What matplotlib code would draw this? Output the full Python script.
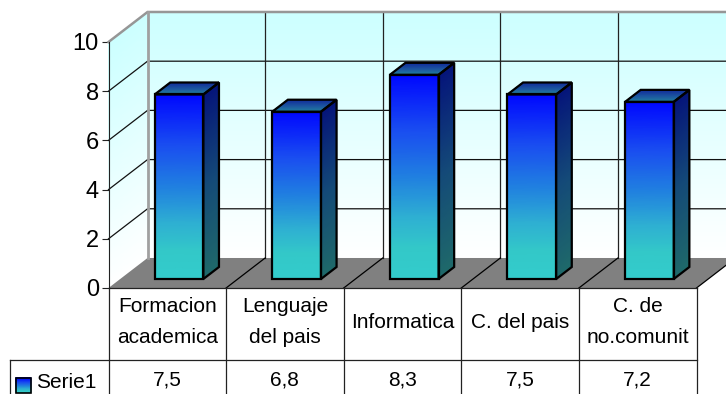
import matplotlib
matplotlib.use('Agg')
from matplotlib import pyplot as plt
from matplotlib.colors import LinearSegmentedColormap
from matplotlib.patches import Polygon
import numpy as np

plt.rcParams['font.family'] = ['Liberation Sans', 'DejaVu Sans']

categories = ['Formacion\nacademica', 'Lenguaje\ndel pais', 'Informatica', 'C. del pais', 'C. de\nno.comunit']
value_labels = ['7,5', '6,8', '8,3', '7,5', '7,2']
values = [7.5, 6.8, 8.3, 7.5, 7.2]
series_name = 'Serie1'
y_ticks = [0, 2, 4, 6, 8, 10]

# oblique projection: one unit of depth moves this far in data units
DEPTH_X = 0.332
DEPTH_Y = 1.22

BAR_WIDTH = 0.414
BAR_FRONT = 0.3
BAR_DEPTH = 0.4

ROW_1 = -2.93
ROW_2 = -4.6
LEGEND_LEFT = -0.838

FRONT_COLOURS = [(0.0, '#33cccc'), (0.15, '#33c8c8'), (0.3, '#2eb0d2'), (0.5, '#2080e0'),
                 (0.72, '#1a4ff0'), (1.0, '#0008ff')]
SIDE_COLOURS = ['#1f6a6a', '#144a78', '#05157a']
LID_COLOURS = ['#20889f', '#1d5aa0', '#12309a']


def project(x, y, d=0.0):
    return x + d * DEPTH_X, y + d * DEPTH_Y


def shade(ax, bottom, top, colours, zorder):
    # bottom and top are two point pairs, coloured from the bottom pair to the top pair
    cmap = LinearSegmentedColormap.from_list('shade', colours)
    t = np.linspace(0, 1, 40)[:, None]
    bottom = np.array(bottom)
    top = np.array(top)
    xs = bottom[:, 0] * (1 - t) + top[:, 0] * t
    ys = bottom[:, 1] * (1 - t) + top[:, 1] * t
    c = np.repeat(t, 2, axis=1)
    ax.pcolormesh(xs, ys, c, shading='gouraud', cmap=cmap, vmin=0, vmax=1,
                  zorder=zorder, clip_on=False)


def outline(ax, points, zorder, lw=1.6, color='black'):
    ax.add_patch(Polygon(points, closed=True, fill=False, edgecolor=color,
                         linewidth=lw, zorder=zorder, clip_on=False, joinstyle='miter'))


def draw_bar(ax, left, value):
    right = left + BAR_WIDTH
    d0, d1 = BAR_FRONT, BAR_FRONT + BAR_DEPTH

    fb = [project(left, 0, d0), project(right, 0, d0)]
    ft = [project(left, value, d0), project(right, value, d0)]
    sb = [project(right, 0, d0), project(right, 0, d1)]
    st = [project(right, value, d0), project(right, value, d1)]
    bt = [project(left, value, d1), project(right, value, d1)]

    shade(ax, sb, st, SIDE_COLOURS, 5)
    shade(ax, ft, bt, LID_COLOURS, 5)
    shade(ax, fb, ft, FRONT_COLOURS, 5)
    outline(ax, [sb[0], sb[1], st[1], st[0]], 6)
    outline(ax, [ft[0], ft[1], bt[1], bt[0]], 6)
    outline(ax, [fb[0], fb[1], ft[1], ft[0]], 6)


fig = plt.figure(figsize=(7.26, 3.94), dpi=100, facecolor='white')
ax = fig.add_axes([108.5 / 726, (394 - 288) / 394, 588 / 726, 246 / 394])
ax.set_xlim(0, len(categories))
ax.set_ylim(0, 10)
ax.patch.set_visible(False)
for name in ['top', 'right', 'bottom']:
    ax.spines[name].set_visible(False)
ax.spines['left'].set_linewidth(0.8)
ax.spines['left'].set_color('#222222')
ax.spines['left'].set_zorder(4)
ax.set_xticks([])
ax.set_yticks(y_ticks)
ax.tick_params(axis='y', length=5, width=0.8, labelsize=17, pad=2, color='#222222')

n = len(categories)
wall = ['#ffffff', '#ccffff']

# back wall and left wall
shade(ax, [project(0, 0, 1), project(n, 0, 1)], [project(0, 10, 1), project(n, 10, 1)], wall, 1)
shade(ax, [project(0, 0, 0), project(0, 0, 1)], [project(0, 10, 0), project(0, 10, 1)], wall, 1)

# floor
ax.add_patch(Polygon([project(0, 0, 0), project(n, 0, 0), project(n, 0, 1), project(0, 0, 1)],
                     closed=True, facecolor='#808080', edgecolor='none', zorder=2, clip_on=False))

# grid on the walls and the floor
for tick in y_ticks[1:-1]:
    xs, ys = zip(project(0, tick, 0), project(0, tick, 1), project(n, tick, 1))
    ax.plot(xs, ys, color='#111111', lw=0.9, zorder=2, clip_on=False)
for i in range(1, n):
    xs, ys = zip(project(i, 0, 1), project(i, 10, 1))
    ax.plot(xs, ys, color='#222222', lw=0.9, zorder=2, clip_on=False)
for i in range(1, n + 1):
    xs, ys = zip(project(i, 0, 0), project(i, 0, 1))
    ax.plot(xs, ys, color='black', lw=0.9, zorder=3, clip_on=False)

# grey frame round the walls
xs, ys = zip(project(0, 10, 0), project(0, 10, 1), project(n, 10, 1))
ax.plot(xs, ys, color='#969696', lw=1.8, zorder=3, clip_on=False, solid_joinstyle='miter')
xs, ys = zip(project(0, 0, 1), project(0, 10, 1))
ax.plot(xs, ys, color='#a0a0a0', lw=2.0, zorder=3, clip_on=False)

for i, value in enumerate(values):
    draw_bar(ax, i + 0.5 - BAR_WIDTH / 2, value)

# data table below the plot
line = dict(color='#222222', lw=0.9, zorder=7, clip_on=False)
ax.plot([0, n], [0, 0], **line)
ax.plot([LEGEND_LEFT, n], [ROW_1, ROW_1], **line)
ax.plot([LEGEND_LEFT, LEGEND_LEFT], [ROW_1, ROW_2], **line)
for i in range(n + 1):
    ax.plot([i, i], [0, ROW_2], **line)

for i, label in enumerate(categories):
    ax.text(i + 0.5, ROW_1 / 2 + 0.08, label, ha='center', va='center', fontsize=15,
            linespacing=1.8, clip_on=False)
    ax.text(i + 0.5, -3.76, value_labels[i], ha='center', va='center', fontsize=15, clip_on=False)

# legend key in the first column
key_x = [LEGEND_LEFT + 0.05, LEGEND_LEFT + 0.178]
shade(ax, [(key_x[0], -4.25), (key_x[1], -4.25)], [(key_x[0], -3.65), (key_x[1], -3.65)],
      FRONT_COLOURS, 5)
outline(ax, [(key_x[0], -4.25), (key_x[1], -4.25), (key_x[1], -3.65), (key_x[0], -3.65)], 6, lw=1.2)
ax.text(LEGEND_LEFT + 0.22, -3.84, series_name, ha='left', va='center', fontsize=15, clip_on=False)

fig.savefig('out.png', dpi=100)
